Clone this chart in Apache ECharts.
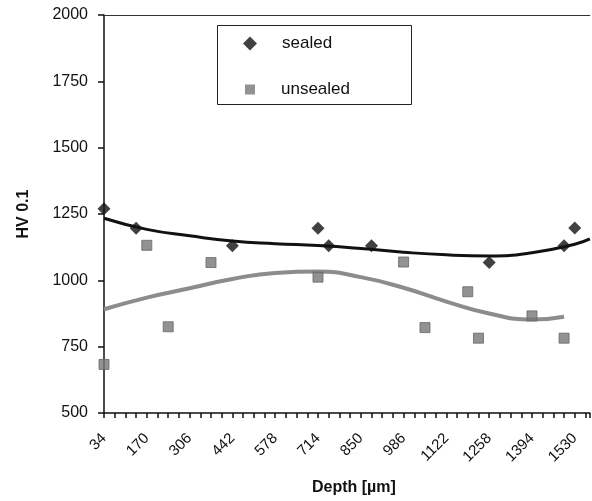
<!DOCTYPE html>
<html>
<head>
<meta charset="utf-8">
<script src="https://cdn.jsdelivr.net/npm/echarts@6/dist/echarts.min.js"></script>
<style>html,body{margin:0;padding:0;background:#fff;}#c{width:592px;height:501px;}</style>
</head>
<body>
<div id="c"></div>
<script>
// Depth tick labels (µm)
var xLabels = [34, 170, 306, 442, 578, 714, 850, 986, 1122, 1258, 1394, 1530];
// Measured points: sealed
var sealedDepth = [34, 136, 442, 714, 748, 884, 1258, 1496, 1530];
var sealedHV = [1270, 1196, 1130, 1196, 1130, 1130, 1067, 1130, 1197];
// Measured points: unsealed
var unsealedDepth = [34, 170, 238, 374, 714, 986, 1054, 1190, 1224, 1394, 1496];
var unsealedHV = [683, 1132, 825, 1067, 1012, 1069, 822, 957, 782, 866, 782];
// Trend lines
var sealedTrendDepth = [34, 170, 306, 442, 578, 714, 850, 986, 1122, 1258, 1394, 1530, 1578];
var sealedTrendHV = [1234, 1192, 1168, 1148, 1138, 1131, 1120, 1106, 1096, 1092, 1104, 1136, 1156];
var unsealedTrendDepth = [34, 170, 306, 442, 578, 714, 850, 986, 1122, 1258, 1394, 1496];
var unsealedTrendHV = [891, 935, 970, 1005, 1028, 1033, 1012, 972, 920, 875, 852, 863];

function zip(a, b) { return a.map(function (v, i) { return [v, b[i]]; }); }

var chart = echarts.init(document.getElementById('c'));
var font = 'Liberation Sans, Arial, sans-serif';
chart.setOption({
  animation: false,
  backgroundColor: '#fff',
  textStyle: { fontFamily: font },
  grid: { left: 104, right: 0, top: 15, bottom: 88, containLabel: false },
  graphic: [{
    type: 'rect', left: 217, top: 25, z: 10,
    shape: { width: 194, height: 79 },
    style: { fill: 'transparent', stroke: '#222', lineWidth: 1 }
  }],
  legend: [{
    orient: 'vertical', left: 243, top: 35, padding: 0,
    itemWidth: 14, itemHeight: 14,
    textStyle: { fontSize: 17, color: '#111', padding: [0, 0, 0, 20], fontFamily: font },
    data: [{ name: 'sealed', icon: 'diamond' }]
  }, {
    orient: 'vertical', left: 245, top: 81, padding: 0,
    itemWidth: 10, itemHeight: 10,
    textStyle: { fontSize: 17, color: '#111', padding: [0, 0, 0, 21], fontFamily: font },
    data: [{ name: 'unsealed', icon: 'rect', itemStyle: { color: '#777777', borderWidth: 0 } }]
  }],
  xAxis: [{
    type: 'value', min: 34, max: 1578, interval: 34,
    name: 'Depth [µm]', nameLocation: 'middle', nameGap: 67,
    nameTextStyle: { fontSize: 16, fontWeight: 'bold', color: '#111', padding: [0, 0, 0, 14], fontFamily: font },
    axisLine: { show: true, onZero: false, lineStyle: { color: '#111', width: 1.5 } },
    axisTick: { show: true, inside: false, length: 5, lineStyle: { color: '#111', width: 1.5 } },
    axisLabel: {
      rotate: 45, fontSize: 15, color: '#111', margin: 23, fontFamily: font,
      formatter: function (v) { return xLabels.indexOf(Math.round(v)) >= 0 ? String(Math.round(v)) : ''; }
    },
    splitLine: { show: false }
  }, {
    type: 'value', position: 'top', min: 34, max: 1578,
    axisLine: { show: true, onZero: false, lineStyle: { color: '#333', width: 1 } },
    axisTick: { show: false }, axisLabel: { show: false }, splitLine: { show: false }
  }],
  yAxis: {
    type: 'value', min: 500, max: 2000, interval: 250,
    name: 'HV 0.1', nameLocation: 'middle', nameGap: 72, nameRotate: 90,
    nameTextStyle: { fontSize: 16, fontWeight: 'bold', color: '#111', fontFamily: font },
    axisLine: { show: true, onZero: false, lineStyle: { color: '#111', width: 1.5 } },
    axisTick: { show: true, inside: false, length: 6, lineStyle: { color: '#111', width: 1.5 } },
    axisLabel: { fontSize: 16, color: '#111', margin: 16, fontFamily: font,
      formatter: function (v) { return String(v); } },
    splitLine: { show: false }
  },
  series: [
    {
      name: 'unsealedTrend', type: 'line', smooth: 0.5, symbol: 'none', z: 2,
      lineStyle: { color: '#8c8c8c', width: 4 },
      data: zip(unsealedTrendDepth, unsealedTrendHV)
    },
    {
      name: 'sealedTrend', type: 'line', smooth: 0.5, symbol: 'none', z: 2,
      lineStyle: { color: '#111', width: 3 },
      data: zip(sealedTrendDepth, sealedTrendHV)
    },
    {
      name: 'sealed', type: 'scatter', symbol: 'diamond', symbolSize: 13, z: 3,
      itemStyle: { color: '#111' },
      data: zip(sealedDepth, sealedHV)
    },
    {
      name: 'unsealed', type: 'scatter', symbol: 'rect', symbolSize: 10, z: 3,
      itemStyle: { color: '#777777', borderColor: '#666666', borderWidth: 1 },
      data: zip(unsealedDepth, unsealedHV)
    }
  ]
});
</script>
</body>
</html>
